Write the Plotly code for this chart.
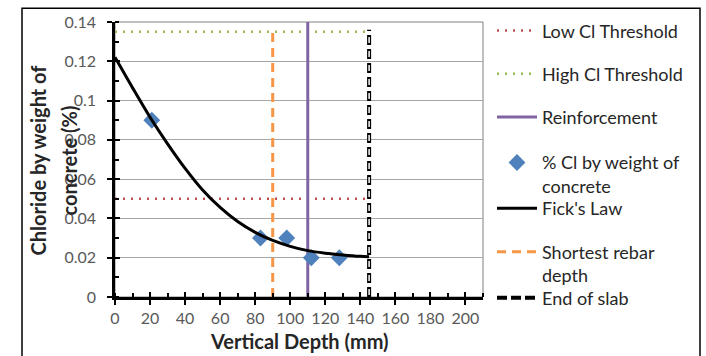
import plotly.graph_objects as go

# Measured chloride content (% by weight of concrete) at vertical depth (mm)
sample_depth = [21, 83, 98, 112, 128]
sample_cl = [0.09, 0.03, 0.03, 0.02, 0.02]

# Fick's law diffusion profile
fick_depth = [0, 10, 20, 30, 40, 50, 60, 70, 80, 90, 100, 110, 120, 130, 140, 145]
fick_cl = [0.122, 0.1065, 0.0915, 0.078, 0.0655, 0.0545, 0.0456, 0.0384, 0.0329,
           0.0288, 0.0258, 0.0236, 0.0223, 0.0214, 0.0207, 0.0205]

# Thresholds and reference depths
threshold_depth = [0, 145]
low_cl = [0.05, 0.05]
high_cl = [0.135, 0.135]
reinforcement_depth = [110, 110]
reinforcement_cl = [0, 0.14]
rebar_depth = [90, 90]
rebar_cl = [0, 0.136]
slab_end_depth = [145, 145]
slab_end_cl = [0, 0.136]

x_ticks = [0, 20, 40, 60, 80, 100, 120, 140, 160, 180, 200]

RED = "#C0504D"
GREEN = "#9BBB59"
PURPLE = "#8064A2"
BLUE = "#4F81BD"
ORANGE = "#F79646"
FONT = "Lato"

W, H = 706, 356
L, R, T, B = 115, 223, 17, 59
PW, PH = W - L - R, H - T - B


def px(xp):
    return (xp - L) / PW


def py(yp):
    return (H - B - yp) / PH


fig = go.Figure()

fig.add_trace(go.Scatter(
    x=threshold_depth, y=low_cl, mode="lines", name="Low Cl Threshold",
    line=dict(color=RED, width=2.5, dash="2px,6px"), legend="legend"))
fig.add_trace(go.Scatter(
    x=threshold_depth, y=high_cl, mode="lines", name="High Cl Threshold",
    line=dict(color=GREEN, width=2.5, dash="2px,6px"), legend="legend2"))
fig.add_trace(go.Scatter(
    x=reinforcement_depth, y=reinforcement_cl, mode="lines", name="Reinforcement",
    line=dict(color=PURPLE, width=3), legend="legend3"))
fig.add_trace(go.Scatter(
    x=rebar_depth, y=rebar_cl, mode="lines", name="Shortest rebar<br>depth",
    line=dict(color=ORANGE, width=3, dash="9px,6px"), legend="legend6"))
fig.add_trace(go.Scatter(
    x=slab_end_depth, y=slab_end_cl, mode="lines", name="End of slab",
    line=dict(color="black", width=4, dash="10px,4px"), legend="legend7"))
fig.add_trace(go.Scatter(
    x=slab_end_depth, y=slab_end_cl, mode="lines", showlegend=False,
    line=dict(color="white", width=1.5, dash="0px,2px,6px,6px"), hoverinfo="skip"))
fig.add_trace(go.Scatter(
    x=sample_depth, y=sample_cl, mode="markers", name="% Cl by weight of<br>concrete",
    marker=dict(symbol="diamond", size=13, color=BLUE), legend="legend4"))
fig.add_trace(go.Scatter(
    x=fick_depth, y=fick_cl, mode="lines", name="Fick's Law",
    line=dict(color="black", width=3, shape="spline", smoothing=0.8), legend="legend5"))

legend_font = dict(family=FONT, size=18, color="#262626")


def legend_at(y_px, two_line=False):
    return dict(
        x=px(492), xanchor="left",
        y=py(y_px + (11 if two_line else 0)), yanchor="middle",
        bgcolor="rgba(0,0,0,0)", borderwidth=0, font=legend_font,
        valign="top", itemwidth=40, tracegroupgap=0,
    )


axis_common = dict(
    showline=True, linecolor="black", linewidth=2.5,
    ticks="outside", ticklen=5, tickwidth=2, tickcolor="black",
    tickfont=dict(family=FONT, size=16, color="#595959"),
    zeroline=False, fixedrange=True,
)

fig.update_layout(
    width=W, height=H, autosize=False,
    margin=dict(l=L, r=R, t=T, b=B, pad=0),
    paper_bgcolor="white", plot_bgcolor="white",
    font=dict(family=FONT),
    xaxis=dict(
        range=[0, 210], tickvals=x_ticks, showgrid=False,
        minor=dict(ticks="inside", dtick=10, tick0=0, ticklen=4, tickwidth=2,
                   tickcolor="black", showgrid=False),
        ticklabelstandoff=0, **axis_common),
    yaxis=dict(
        range=[0, 0.14], dtick=0.02, tick0=0, showgrid=True,
        gridcolor="#A6A6A6", gridwidth=1,
        minor=dict(ticks="inside", dtick=0.01, tick0=0, ticklen=4, tickwidth=2,
                   tickcolor="black", showgrid=False),
        ticklabelstandoff=8, **axis_common),
    xaxis2=dict(overlaying="x", range=[0, 210], tickvals=x_ticks, ticks="inside",
                ticklen=5, tickwidth=2, tickcolor="black", showticklabels=False,
                showgrid=False, zeroline=False, showline=False, fixedrange=True),
    yaxis2=dict(overlaying="y", range=[0, 0.14], dtick=0.02, tick0=0, ticks="inside",
                ticklen=5, tickwidth=2, tickcolor="black", showticklabels=False,
                showgrid=False, zeroline=False, showline=False, fixedrange=True),
    legend=legend_at(26),
    legend2=legend_at(70),
    legend3=legend_at(114),
    legend4=legend_at(161, two_line=True),
    legend5=legend_at(207),
    legend6=legend_at(252, two_line=True),
    legend7=legend_at(298),
    shapes=[
        dict(type="rect", xref="paper", yref="paper", x0=0, x1=1, y0=0, y1=1,
             line=dict(color="#808080", width=1), layer="below"),
        dict(type="rect", xref="paper", yref="paper",
             x0=px(22), x1=px(700), y0=py(420), y1=py(3),
             line=dict(color="black", width=1.5)),
    ],
    annotations=[
        dict(text="<b>Vertical Depth (mm)</b>", xref="paper", yref="paper",
             x=0.5, y=py(342), xanchor="center", yanchor="middle", showarrow=False,
             font=dict(family=FONT, size=20, color="#262626")),
        dict(text="<b>Chloride by weight of</b>", xref="paper", yref="paper",
             x=px(38), y=py(158), xanchor="center", yanchor="middle", showarrow=False,
             textangle=-90, font=dict(family=FONT, size=20, color="#262626")),
        dict(text="<b>concrete (%)</b>", xref="paper", yref="paper",
             x=px(69), y=py(158), xanchor="center", yanchor="middle", showarrow=False,
             textangle=-90, font=dict(family=FONT, size=20, color="#262626")),
    ],
)

# Overlay axes carry the inward half of the major ticks
fig.add_trace(go.Scatter(x=[None], y=[None], xaxis="x2", yaxis="y2",
                         showlegend=False, hoverinfo="skip"))

fig.write_html("out.html")
